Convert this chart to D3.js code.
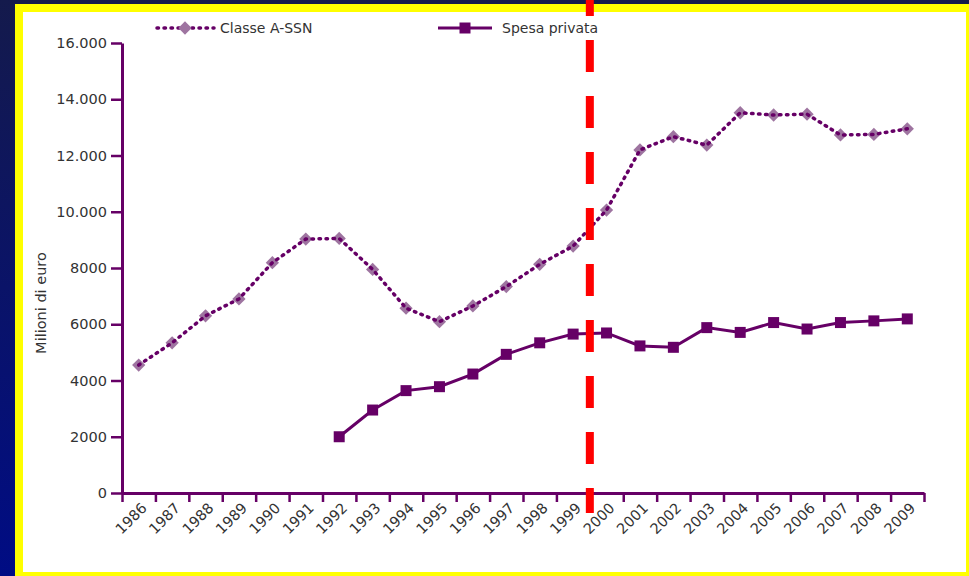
<!DOCTYPE html>
<html>
<head>
<meta charset="utf-8">
<script src="https://cdn.jsdelivr.net/npm/d3@7"></script>
<style>
  body { margin: 0; background: #0a1260; }
  svg { display: block; }
  text { font-family: "DejaVu Sans", sans-serif; fill: #333; }
</style>
</head>
<body>
<div id="chart"></div>
<script>
// categories
const years = ['1986', '1987', '1988', '1989', '1990', '1991', '1992', '1993', '1994', '1995', '1996', '1997',
  '1998', '1999', '2000', '2001', '2002', '2003', '2004', '2005', '2006', '2007', '2008', '2009'];

// Classe A-SSN (milioni di euro)
const classeA = [4550, 5340, 6300, 6900, 8190, 9030, 9050, 7950, 6570, 6090, 6650, 7340,
  8130, 8780, 10060, 12200, 12670, 12370, 13520, 13440, 13470, 12730, 12750, 12950];

// Spesa privata, starts in 1992
const spesaYears = ['1992', '1993', '1994', '1995', '1996', '1997', '1998', '1999', '2000',
  '2001', '2002', '2003', '2004', '2005', '2006', '2007', '2008', '2009'];
const spesaPrivata = [2000, 2950, 3640, 3780, 4230, 4930, 5340, 5650, 5690,
  5230, 5180, 5880, 5710, 6060, 5830, 6060, 6120, 6190];

const yTicks = [0, 2000, 4000, 6000, 8000, 10000, 12000, 14000, 16000];
const cutYear = '2000'; // red dashed marker sits before this year

const W = 969, H = 576;
const plotColor = '#660066';
const margin = { top: 43, right: 45, bottom: 83, left: 122 };

const svg = d3.select('#chart').append('svg')
  .attr('width', W)
  .attr('height', H);

// background: navy gradient, yellow frame, white panel
const grad = svg.append('defs').append('linearGradient')
  .attr('id', 'bg').attr('x1', 0).attr('y1', 0).attr('x2', 0).attr('y2', 1);
grad.append('stop').attr('offset', '0%').attr('stop-color', '#141a4c');
grad.append('stop').attr('offset', '100%').attr('stop-color', '#000c84');
svg.append('rect').attr('width', W).attr('height', H).attr('fill', 'url(#bg)');
svg.append('rect').attr('x', 15).attr('y', 4).attr('width', W - 15).attr('height', H - 4).attr('fill', '#ffff00');
svg.append('rect').attr('x', 23).attr('y', 12).attr('width', 943).attr('height', 560).attr('fill', '#fff');

const x = d3.scaleBand()
  .domain(years)
  .range([margin.left, W - margin.right])
  .padding(0);
const xEdge = d3.scaleLinear()
  .domain([0, years.length])
  .range([margin.left, W - margin.right]);
const y = d3.scaleLinear()
  .domain([0, 16000])
  .range([H - margin.bottom, margin.top]);

const cx = d => x(d) + x.bandwidth() / 2;

// y axis
const fmt = v => v >= 10000 ? d3.format(',')(v).replace(',', '.') : String(v);
const yAxis = svg.append('g')
  .attr('transform', `translate(${margin.left},0)`)
  .call(d3.axisLeft(y).tickValues(yTicks).tickFormat(fmt).tickSize(11).tickSizeOuter(0).tickPadding(4));
yAxis.select('.domain').attr('stroke', plotColor).attr('stroke-width', 3);
yAxis.selectAll('.tick line').attr('stroke', plotColor).attr('stroke-width', 2.5);
yAxis.selectAll('.tick text').style('font-size', '14.5px').style('fill', '#333');

// x axis: ticks at the band edges, labels at band centres
const xTicks = svg.append('g')
  .attr('transform', `translate(0,${H - margin.bottom})`)
  .call(d3.axisBottom(xEdge).ticks(years.length).tickFormat('').tickSize(9).tickSizeOuter(0));
xTicks.select('.domain').attr('stroke', plotColor).attr('stroke-width', 3);
xTicks.selectAll('.tick line').attr('stroke', plotColor).attr('stroke-width', 2.5);

const xLabels = svg.append('g')
  .attr('transform', `translate(0,${H - margin.bottom})`)
  .call(d3.axisBottom(x).tickSize(0));
xLabels.select('.domain').remove();
xLabels.selectAll('.tick text')
  .attr('x', 0).attr('y', 0).attr('dy', null)
  .attr('transform', 'translate(9,16) rotate(-45)')
  .style('text-anchor', 'end')
  .style('font-size', '14.5px')
  .style('fill', '#333');

// y axis title
svg.append('text')
  .attr('transform', `translate(46,303) rotate(-90)`)
  .attr('text-anchor', 'middle')
  .style('font-size', '14.5px')
  .text('Milioni di euro');

const diamond = d3.symbol().type(d3.symbolSquare).size(88);
const square = d3.symbol().type(d3.symbolSquare).size(121);

// Classe A-SSN: diamonds + dotted line
const classeData = years.map((yr, i) => ({ yr, v: classeA[i] }));
svg.append('g').selectAll('path')
  .data(classeData)
  .join('path')
  .attr('d', diamond)
  .attr('transform', d => `translate(${cx(d.yr)},${y(d.v)}) rotate(45)`)
  .attr('fill', '#9e74a0');
svg.append('path')
  .datum(classeData)
  .attr('fill', 'none')
  .attr('stroke', plotColor)
  .attr('stroke-width', 3.5)
  .attr('stroke-linecap', 'round')
  .attr('stroke-dasharray', '1.5,5.5')
  .attr('d', d3.line().x(d => cx(d.yr)).y(d => y(d.v)));

// Spesa privata: solid line + squares
const spesaData = spesaYears.map((yr, i) => ({ yr, v: spesaPrivata[i] }));
svg.append('path')
  .datum(spesaData)
  .attr('fill', 'none')
  .attr('stroke', plotColor)
  .attr('stroke-width', 3)
  .attr('d', d3.line().x(d => cx(d.yr)).y(d => y(d.v)));
svg.append('g').selectAll('path')
  .data(spesaData)
  .join('path')
  .attr('d', square)
  .attr('transform', d => `translate(${cx(d.yr)},${y(d.v)})`)
  .attr('fill', plotColor);

// legend
const lg = svg.append('g');
lg.append('line')
  .attr('x1', 157).attr('x2', 214).attr('y1', 28).attr('y2', 28)
  .attr('stroke', plotColor).attr('stroke-width', 3.5)
  .attr('stroke-linecap', 'round').attr('stroke-dasharray', '1.5,5.5');
lg.append('path').attr('d', diamond).attr('transform', 'translate(185,28) rotate(45)').attr('fill', '#9e74a0');
lg.append('text').attr('x', 220).attr('y', 33).style('font-size', '14px').text('Classe A-SSN');

lg.append('line')
  .attr('x1', 438).attr('x2', 492).attr('y1', 28).attr('y2', 28)
  .attr('stroke', plotColor).attr('stroke-width', 3);
lg.append('path').attr('d', square).attr('transform', 'translate(465,28)').attr('fill', plotColor);
lg.append('text').attr('x', 502).attr('y', 33).style('font-size', '14px').text('Spesa privata');

// red dashed separator between 1999 and 2000
svg.append('line')
  .attr('x1', x(cutYear)).attr('x2', x(cutYear))
  .attr('y1', 0).attr('y2', 513)
  .attr('stroke', '#ff0000')
  .attr('stroke-width', 8)
  .attr('stroke-dasharray', '32,24')
  .attr('stroke-dashoffset', 16);
</script>
</body>
</html>
